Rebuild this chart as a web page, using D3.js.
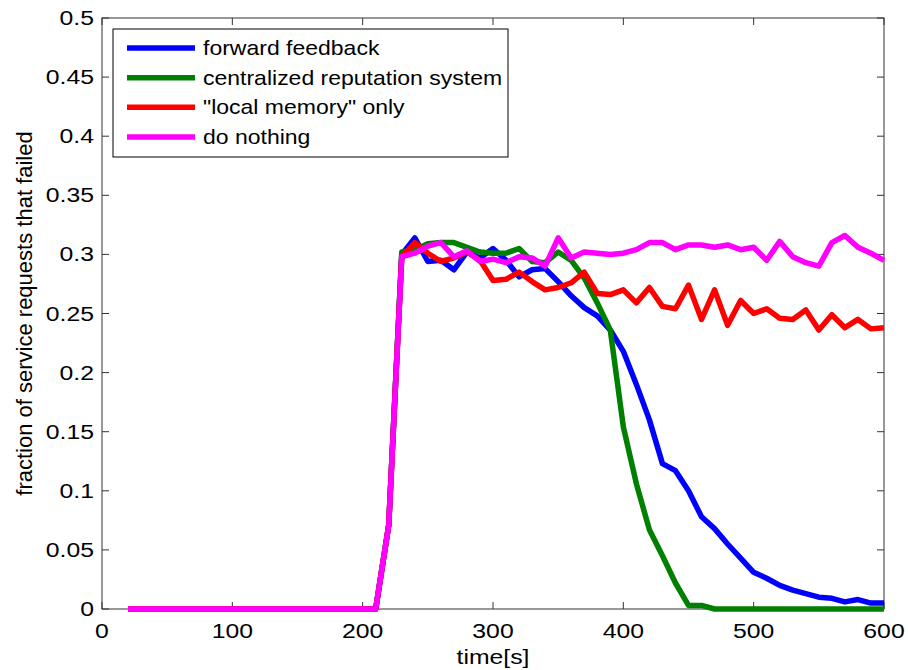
<!DOCTYPE html>
<html>
<head>
<meta charset="utf-8">
<script src="https://cdn.jsdelivr.net/npm/d3@7"></script>
<style>
  body { margin: 0; background: #fff; }
  svg text { font-family: "Liberation Sans", Arial, sans-serif; fill: #000; }
</style>
</head>
<body>
<svg id="chart" width="908" height="670"></svg>
<script>
// time axis: 20..600 s, every 10 s
const times = d3.range(20, 601, 10);

// before the attack all series sit at 0 (20..210), then 0.07 at 220
const zeroPart = [0,0,0,0,0,0,0,0,0,0,0,0,0,0,0,0,0,0,0,0,0.071];

const forwardFeedback = zeroPart.concat([
  0.300, 0.314, 0.294, 0.295, 0.287, 0.302, 0.297, 0.305, 0.295, 0.281,
  0.287, 0.288, 0.277, 0.265, 0.255, 0.248, 0.236, 0.218, 0.190, 0.160,
  0.123, 0.117, 0.100, 0.078, 0.068, 0.055, 0.043, 0.031, 0.026, 0.020,
  0.016, 0.013, 0.010, 0.009, 0.006, 0.008, 0.005, 0.005
]);
const centralized = zeroPart.concat([
  0.302, 0.304, 0.309, 0.310, 0.310, 0.306, 0.302, 0.301, 0.301, 0.305,
  0.294, 0.293, 0.302, 0.295, 0.280, 0.259, 0.236, 0.154, 0.106, 0.067,
  0.045, 0.022, 0.003, 0.003, 0, 0, 0, 0, 0, 0,
  0, 0, 0, 0, 0, 0, 0, 0
]);
const localMemory = zeroPart.concat([
  0.298, 0.310, 0.301, 0.294, 0.297, 0.302, 0.295, 0.278, 0.279, 0.285,
  0.277, 0.270, 0.272, 0.276, 0.285, 0.267, 0.266, 0.270, 0.259, 0.272,
  0.256, 0.254, 0.274, 0.245, 0.270, 0.240, 0.261, 0.250, 0.254, 0.246,
  0.245, 0.253, 0.236, 0.249, 0.238, 0.245, 0.237, 0.238
]);
const doNothing = zeroPart.concat([
  0.298, 0.301, 0.307, 0.310, 0.298, 0.303, 0.294, 0.296, 0.293, 0.298,
  0.297, 0.290, 0.314, 0.297, 0.302, 0.301, 0.300, 0.301, 0.304, 0.310,
  0.310, 0.304, 0.308, 0.308, 0.306, 0.308, 0.304, 0.306, 0.295, 0.311,
  0.298, 0.293, 0.290, 0.310, 0.316, 0.306, 0.301, 0.295
]);

const seriesNames = ["forward feedback", "centralized reputation system", "\"local memory\" only", "do nothing"];
const seriesColors = ["#0000ff", "#008000", "#ff0000", "#ff00ff"];
const seriesValues = [forwardFeedback, centralized, localMemory, doNothing];

const xTicks = [0, 100, 200, 300, 400, 500, 600];
const yTicks = [0, 0.05, 0.1, 0.15, 0.2, 0.25, 0.3, 0.35, 0.4, 0.45, 0.5];

const svg = d3.select("#chart");
const plotLeft = 102, plotRight = 884, plotTop = 18, plotBottom = 609;

const x = d3.scaleLinear().domain([0, 600]).range([plotLeft, plotRight]);
const y = d3.scaleLinear().domain([0, 0.5]).range([plotBottom, plotTop]);

// the original's font is wider than Liberation Sans, stretch it a bit
const stretch = 1.18;

// frame + inward ticks (matlab style)
const axisColor = "#333";
const tickLen = 7;

svg.append("rect")
    .attr("x", plotLeft).attr("y", plotTop)
    .attr("width", plotRight - plotLeft).attr("height", plotBottom - plotTop)
    .attr("fill", "none").attr("stroke", axisColor).attr("stroke-width", 1);

const ticksG = svg.append("g").attr("stroke", axisColor).attr("stroke-width", 1);
xTicks.forEach(t => {
    ticksG.append("line").attr("x1", x(t)).attr("x2", x(t)).attr("y1", plotBottom).attr("y2", plotBottom - tickLen);
    ticksG.append("line").attr("x1", x(t)).attr("x2", x(t)).attr("y1", plotTop).attr("y2", plotTop + tickLen);
});
yTicks.forEach(t => {
    ticksG.append("line").attr("x1", plotLeft).attr("x2", plotLeft + tickLen).attr("y1", y(t)).attr("y2", y(t));
    ticksG.append("line").attr("x1", plotRight).attr("x2", plotRight - tickLen).attr("y1", y(t)).attr("y2", y(t));
});

svg.append("g").selectAll("text")
    .data(xTicks)
    .enter().append("text")
    .attr("transform", d => `translate(${x(d)},${plotBottom + 29}) scale(${stretch},1)`)
    .attr("text-anchor", "middle")
    .style("font-size", "21px")
    .text(d => d);

svg.append("g").selectAll("text")
    .data(yTicks)
    .enter().append("text")
    .attr("transform", d => `translate(${plotLeft - 8},${y(d) + 7}) scale(${stretch},1)`)
    .attr("text-anchor", "end")
    .style("font-size", "21px")
    .text(d => d);

svg.append("text")
    .attr("transform", `translate(${(plotLeft + plotRight) / 2},664) scale(${stretch},1)`)
    .attr("text-anchor", "middle")
    .style("font-size", "21px")
    .text("time[s]");

svg.append("text")
    .attr("transform", `translate(32,${(plotTop + plotBottom) / 2}) rotate(-90)`)
    .attr("text-anchor", "middle")
    .style("font-size", "22px")
    .text("fraction of service requests that failed");

// lines
const line = d3.line()
    .x((d, i) => x(times[i]))
    .y(d => y(d));

svg.append("g").selectAll("path")
    .data(seriesValues)
    .enter().append("path")
    .attr("d", d => line(d))
    .attr("fill", "none")
    .attr("stroke", (d, i) => seriesColors[i])
    .attr("stroke-width", 5.5)
    .attr("stroke-linejoin", "round");

// legend
const legend = svg.append("g");
legend.append("rect")
    .attr("x", 113).attr("y", 29)
    .attr("width", 395).attr("height", 128)
    .attr("fill", "#fff").attr("stroke", "#000").attr("stroke-width", 1);

const rowY = d3.scalePoint().domain(d3.range(4)).range([48, 137]);
seriesNames.forEach((name, i) => {
    legend.append("line")
        .attr("x1", 127).attr("x2", 195)
        .attr("y1", rowY(i)).attr("y2", rowY(i))
        .attr("stroke", seriesColors[i]).attr("stroke-width", 5.5);
    legend.append("text")
        .attr("transform", `translate(203,${rowY(i) + 7}) scale(1.15,1)`)
        .style("font-size", "20px")
        .text(name);
});
</script>
</body>
</html>
